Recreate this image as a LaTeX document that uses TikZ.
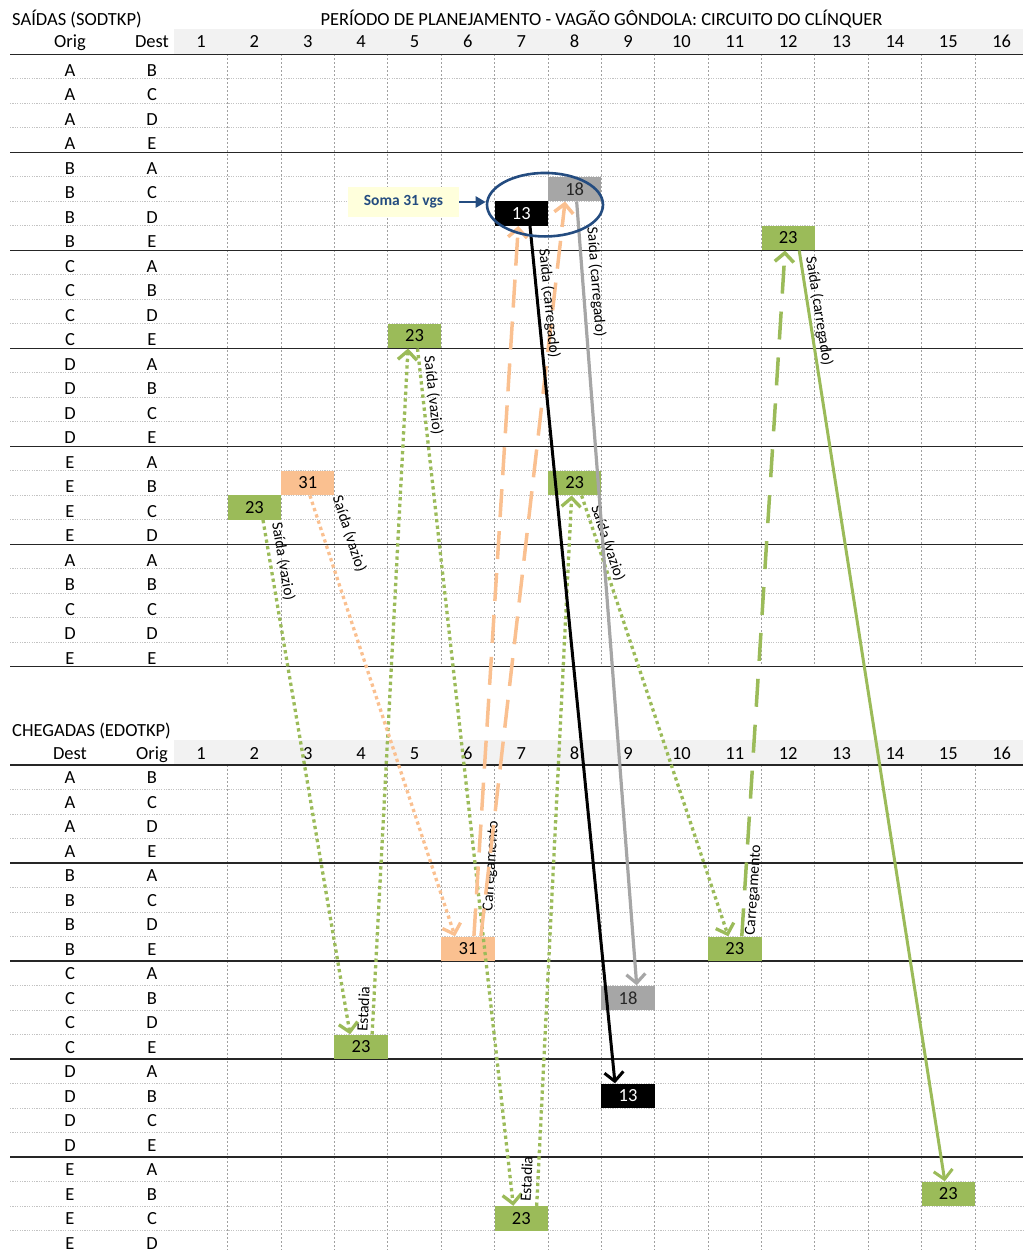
\documentclass[tikz,border=0pt]{standalone}
\usepackage{fontspec}
\setmainfont{Carlito}
\usetikzlibrary{arrows.meta,shapes.geometric}

\definecolor{cellgreen}{RGB}{155,187,89}
\definecolor{cellpeach}{RGB}{250,192,144}
\definecolor{cellgrey}{RGB}{166,166,166}
\definecolor{ringblue}{RGB}{36,76,128}
\definecolor{headband}{RGB}{242,242,242}
\definecolor{rulegrey}{RGB}{195,195,195}
\definecolor{colgrey}{RGB}{160,160,160}
\definecolor{notefill}{RGB}{255,255,220}

\tikzset{
  tabtxt/.style={font=\fontsize{18.5}{18.5}\selectfont, inner sep=0pt, anchor=base},
  cellbox/.style={minimum width=53.4pt, minimum height=24.5pt, inner sep=0pt,
                  font=\fontsize{18.5}{18.5}\selectfont},
  gbox/.style={cellbox, fill=cellgreen},
  pbox/.style={cellbox, fill=cellpeach},
  mbox/.style={cellbox, fill=cellgrey, text=black!85},
  kbox/.style={cellbox, fill=black, text=white},
  thickrule/.style={line width=1.3pt, black!85},
  dotrule/.style={line width=0.8pt, rulegrey, dash pattern=on 1.2pt off 1.2pt},
  colrule/.style={line width=0.8pt, colgrey, dash pattern=on 2pt off 2pt},
  barb/.style={-{Straight Barb[length=9pt,width=19pt]}},
  gdot/.style={barb, draw=cellgreen, line width=3.3pt, dash pattern=on 3.3pt off 3.3pt},
  pdot/.style={barb, draw=cellpeach, line width=3.3pt, dash pattern=on 3.3pt off 3.3pt},
  gdash/.style={barb, draw=cellgreen, line width=3.5pt, dash pattern=on 28pt off 18pt},
  pdash/.style={barb, draw=cellpeach, line width=3.5pt, dash pattern=on 28pt off 14pt},
  gline/.style={barb, draw=cellgreen, line width=3pt},
  kline/.style={barb, draw=black, line width=3pt},
  mline/.style={barb, draw=cellgrey, line width=3.2pt},
  lbl/.style={font=\fontsize{15.5}{15.5}\selectfont, sloped, inner sep=1pt},
}

\begin{document}
\begin{tikzpicture}[x=1pt,y=-1pt]
\useasboundingbox (0,0) rectangle (1023,1250);

% header bands of the two tables
\fill[headband] (174.3,29.3) rectangle (1023,54.3);
\fill[headband] (174.3,740) rectangle (1023,765);

% period column rules
\foreach \j in {1,...,15}{
  \draw[colrule] ({174.3+53.38*\j},54.3) -- ({174.3+53.38*\j},666.8);
  \draw[colrule] ({174.3+53.38*\j},765) -- ({174.3+53.38*\j},1250);
}

% row rules: departures table
\foreach \k in {1,2,3,5,6,7,9,10,11,13,14,15,17,18,19,21,22,23,24}
  \draw[dotrule] (10,{54.3+24.5*\k}) -- (1023,{54.3+24.5*\k});
\foreach \k in {0,4,8,12,16,20,25}
  \draw[thickrule] (10,{54.3+24.5*\k}) -- (1023,{54.3+24.5*\k});
% row rules: arrivals table
\foreach \k in {1,2,3,5,6,7,9,10,11,13,14,15,17,18,19}
  \draw[dotrule] (10,{765+24.5*\k}) -- (1023,{765+24.5*\k});
\foreach \k in {0,4,8,12,16}
  \draw[thickrule] (10,{765+24.5*\k}) -- (1023,{765+24.5*\k});

% titles
\node[tabtxt, anchor=base west] (ttlout) at (12,25.7) {SAÍDAS (SODTKP)};
\node[tabtxt] (ttlmain) at (601.5,25.7) {PERÍODO DE PLANEJAMENTO - VAGÃO GÔNDOLA: CIRCUITO DO CLÍNQUER};
\node[tabtxt, anchor=base west] (ttlin) at (12,736.7) {CHEGADAS (EDOTKP)};

% column headers
\node[tabtxt] (hoo) at (70,47) {Orig};
\node[tabtxt] (hod) at (152,47) {Dest};
\node[tabtxt] (hid) at (70,759.5) {Dest};
\node[tabtxt] (hio) at (152,759.5) {Orig};
\foreach \k in {1,...,16}{
  \node[tabtxt] (hon\k) at ({174.3+53.38*(\k-0.5)},47) {\k};
  \node[tabtxt] (hin\k) at ({174.3+53.38*(\k-0.5)},759.5) {\k};
}

% origin / destination pairs
\foreach \a/\b [count=\i from 0] in {A/B,A/C,A/D,A/E,B/A,B/C,B/D,B/E,C/A,C/B,C/D,C/E,D/A,D/B,D/C,D/E,E/A,E/B,E/C,E/D,A/A,B/B,C/C,D/D,E/E}{
  \node[tabtxt] (roa\i) at (70,{76+24.5*\i}) {\a};
  \node[tabtxt] (rob\i) at (152,{76+24.5*\i}) {\b};
}
\foreach \a/\b [count=\i from 0] in {A/B,A/C,A/D,A/E,B/A,B/C,B/D,B/E,C/A,C/B,C/D,C/E,D/A,D/B,D/C,D/E,E/A,E/B,E/C,E/D}{
  \node[tabtxt] (ria\i) at (70,{783.5+24.5*\i}) {\a};
  \node[tabtxt] (rib\i) at (152,{783.5+24.5*\i}) {\b};
}

% wagon counts: departures
\node[gbox] (t23a) at (254.4,507.55) {23};
\node[pbox] (t31)  at (307.75,483.05) {31};
\node[gbox] (t23b) at (414.5,336.05) {23};
\node[gbox] (t23c) at (574.65,483.05) {23};
\node[kbox] (t13)  at (521.3,213.55) {13};
\node[mbox] (t18)  at (574.65,189.05) {18};
\node[gbox] (t23d) at (788.2,238.05) {23};

% wagon counts: arrivals
\node[pbox] (b31)  at (467.9,948.75) {31};
\node[gbox] (b23a) at (734.8,948.75) {23};
\node[mbox] (b18)  at (628.0,997.75) {18};
\node[gbox] (b23b) at (361.1,1046.75) {23};
\node[kbox] (b13)  at (628.0,1095.75) {13};
\node[gbox] (b23c) at (521.3,1218.25) {23};
\node[gbox] (b23d) at (948.3,1193.75) {23};

% green cycle
\draw[gdot] ([xshift=8.6pt]t23a.south) -- node[lbl,pos=.085,above=3.5pt] {Saída (vazio)} ([xshift=-11pt]b23b.north);
\draw[gdot] ([xshift=11pt]b23b.north) -- node[lbl,pos=.036,above=2pt] {Estadia} ([xshift=-6.5pt]t23b.south);
\draw[gdot] ([xshift=3pt]t23b.south) -- node[lbl,pos=.056,above=1pt] {Saída (vazio)} ([xshift=-8pt]b23c.north);
\draw[gdot] ([xshift=15.4pt]b23c.north) -- node[lbl,pos=.037,above=3.5pt] {Estadia} ([xshift=-3pt]t23c.south);
\draw[gdot] ([xshift=7pt]t23c.south) -- node[lbl,pos=.115,above=0.5pt] {Saída (vazio)} ([xshift=-6.5pt]b23a.north);
\draw[gdash] ([xshift=7pt]b23a.north) -- node[lbl,pos=.068,below=0pt] {Carregamento} ([xshift=-3.2pt]t23d.south);
\draw[gline] ([xshift=11pt]t23d.south) -- node[lbl,pos=.067,above=0.5pt] {Saída (carregado)} ([xshift=-3.5pt]b23d.north);

% orange cycle
\draw[pdot] ([xshift=2.2pt]t31.south) -- node[lbl,pos=.105,above=16pt] {Saída (vazio)} ([xshift=-12.9pt]b31.north);
\draw[pdash] ([xshift=6pt]b31.north) -- node[lbl,pos=.1,below=4pt] {Carregamento} ([xshift=-3pt]t13.south);
\draw[pdash] ([xshift=13pt]b31.north) -- ([xshift=-9.6pt]t18.south);

% loaded departures
\draw[kline] ([xshift=8.7pt]t13.south) -- node[lbl,pos=.092,above=1.7pt] {Saída (carregado)} ([xshift=-13pt]b13.north);
\draw[mline] ([xshift=2pt]t18.south) -- node[lbl,pos=.104,above=3.5pt] {Saída (carregado)} ([xshift=8.7pt]b18.north);

% total of loaded wagons
\node[ellipse, draw=ringblue, line width=2.6pt, minimum width=116pt, minimum height=63.5pt, inner sep=0pt] (ring) at (545,204.7) {};
\node[fill=notefill, minimum width=111pt, minimum height=30pt, inner sep=0pt, text=ringblue,
      font=\bfseries\fontsize{15.5}{15.5}\selectfont] (soma) at (403.5,202) {Soma 31 vgs};
\draw[ringblue, line width=2.4pt, -{Triangle[length=10pt,width=11pt]}] (soma.east) -- (soma.east -| ring.west);

\end{tikzpicture}
\end{document}
